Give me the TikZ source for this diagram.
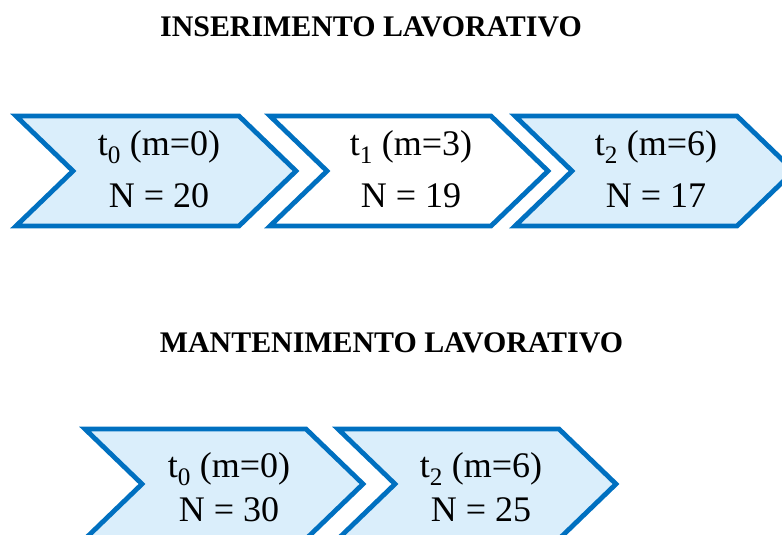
\documentclass[tikz,border=0pt]{standalone}
\usepackage{fontspec}
\setmainfont{Liberation Serif}
\definecolor{chevblue}{RGB}{0,112,192}
\definecolor{chevfill}{RGB}{218,238,251}
\newcommand{\chevpath}[6]{% x, yc, w, d, h, fill
  \filldraw[chevron,fill=#6] (#1,#2-#5) -- (#1+#3,#2-#5) -- (#1+#3+#4,#2) -- (#1+#3,#2+#5) -- (#1,#2+#5) -- (#1+#4,#2) -- cycle;}
\begin{document}
\begin{tikzpicture}[x=1pt,y=-1pt,
  chevron/.style={draw=chevblue,line width=4.8pt,line join=miter},
  title/.style={font=\fontsize{29.9}{33}\selectfont\bfseries,anchor=base,inner sep=0pt},
  label/.style={font=\fontsize{36}{40}\selectfont,anchor=base,inner sep=0pt}]
\useasboundingbox (0,0) rectangle (782,535);
% titles
\node[title] (t1) at (371,37) {INSERIMENTO LAVORATIVO};
\node[title] (t2) at (391.5,352) {MANTENIMENTO LAVORATIVO};
% top row
\chevpath{16}{171}{223}{57}{55}{chevfill}
\chevpath{270}{171}{221}{57}{55}{white}
\chevpath{515}{171}{222}{57}{55}{chevfill}
\node[label] (a1) at (159,155) {t\textsubscript{0} (m=0)};
\node[label] (a2) at (159,207) {N = 20};
\node[label] (b1) at (411,155) {t\textsubscript{1} (m=3)};
\node[label] (b2) at (411,207) {N = 19};
\node[label] (c1) at (656,155) {t\textsubscript{2} (m=6)};
\node[label] (c2) at (656,207) {N = 17};
% bottom row
\chevpath{85}{484}{221}{57}{55}{chevfill}
\chevpath{338}{484}{221}{57}{55}{chevfill}
\node[label] (d1) at (229,477) {t\textsubscript{0} (m=0)};
\node[label] (d2) at (229,521) {N = 30};
\node[label] (e1) at (481,477) {t\textsubscript{2} (m=6)};
\node[label] (e2) at (481,521) {N = 25};
\end{tikzpicture}
\end{document}
